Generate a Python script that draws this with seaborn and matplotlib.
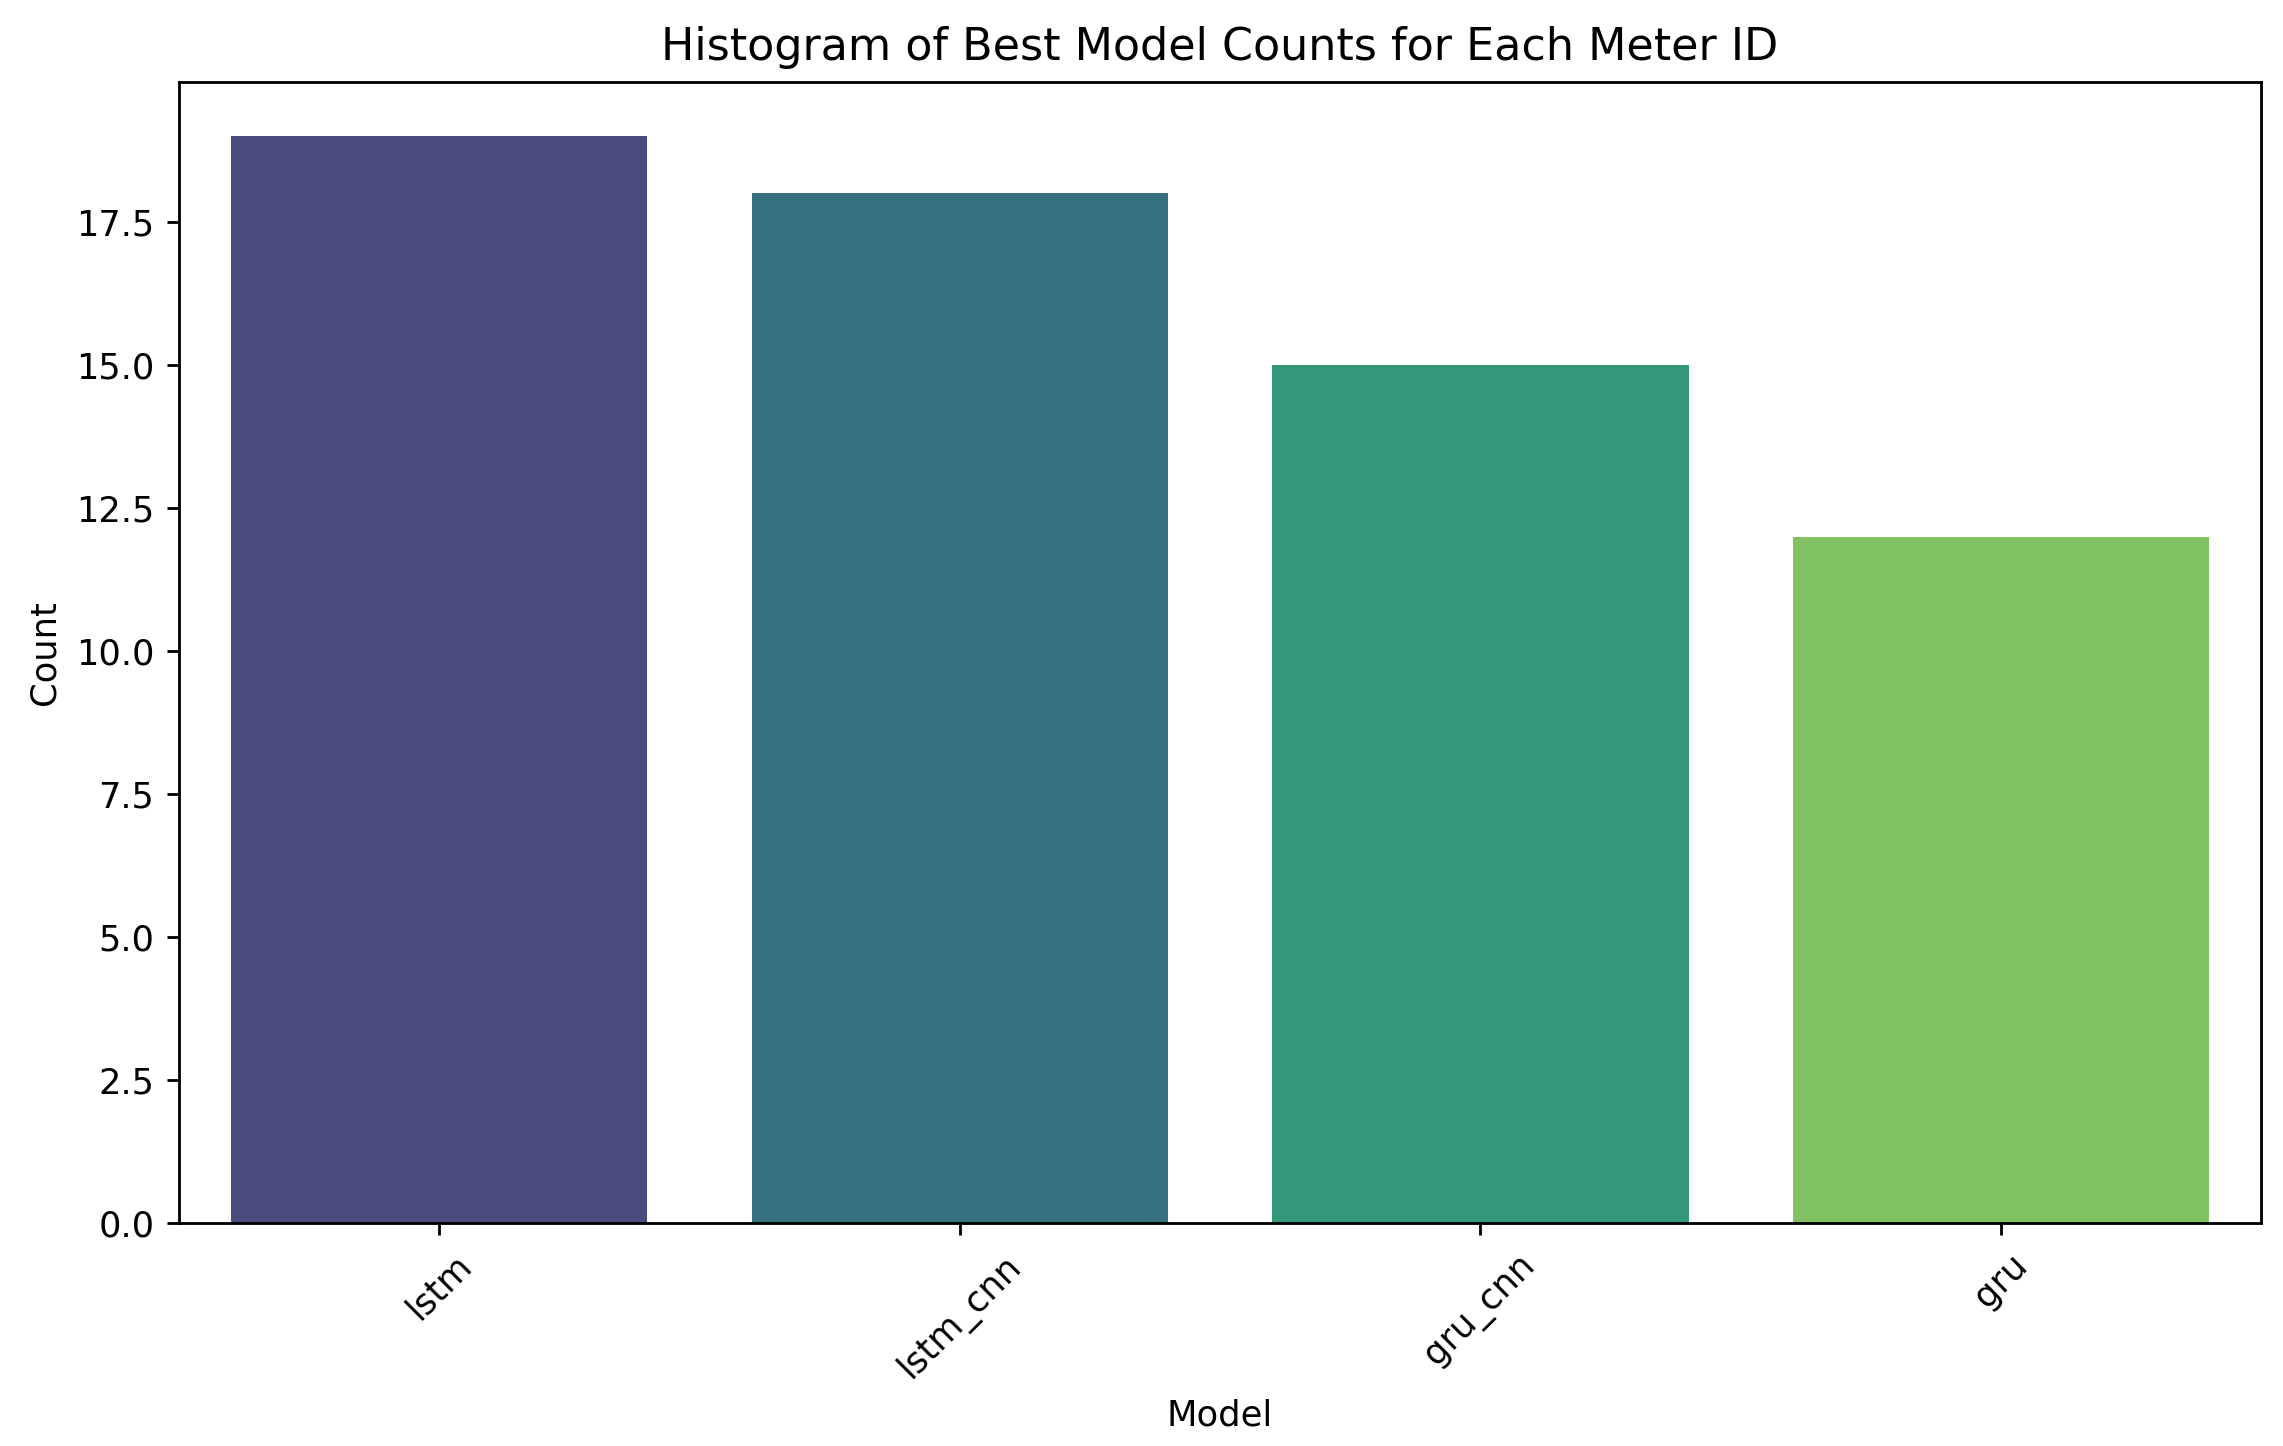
import matplotlib
matplotlib.use("Agg")
import matplotlib.pyplot as plt
import seaborn as sns
import pandas as pd

models = ["lstm", "lstm_cnn", "gru_cnn", "gru"]
counts = [19, 18, 15, 12]

df = pd.DataFrame({"Model": models, "Count": counts})

fig = plt.figure(figsize=(2283 / 254, 1446 / 254), dpi=254)
ax = fig.add_axes([0.0784, 0.154, 0.912, 0.7896])
sns.barplot(data=df, x="Model", y="Count", hue="Model", palette="viridis",
            legend=False, ax=ax)
ax.set_title("Histogram of Best Model Counts for Each Meter ID", fontsize=12.6)
ax.set_xlabel("Model", fontsize=10)
ax.set_ylabel("Count", fontsize=10)
plt.setp(ax.get_xticklabels(), rotation=45)
fig.savefig("out.png", dpi=254)
